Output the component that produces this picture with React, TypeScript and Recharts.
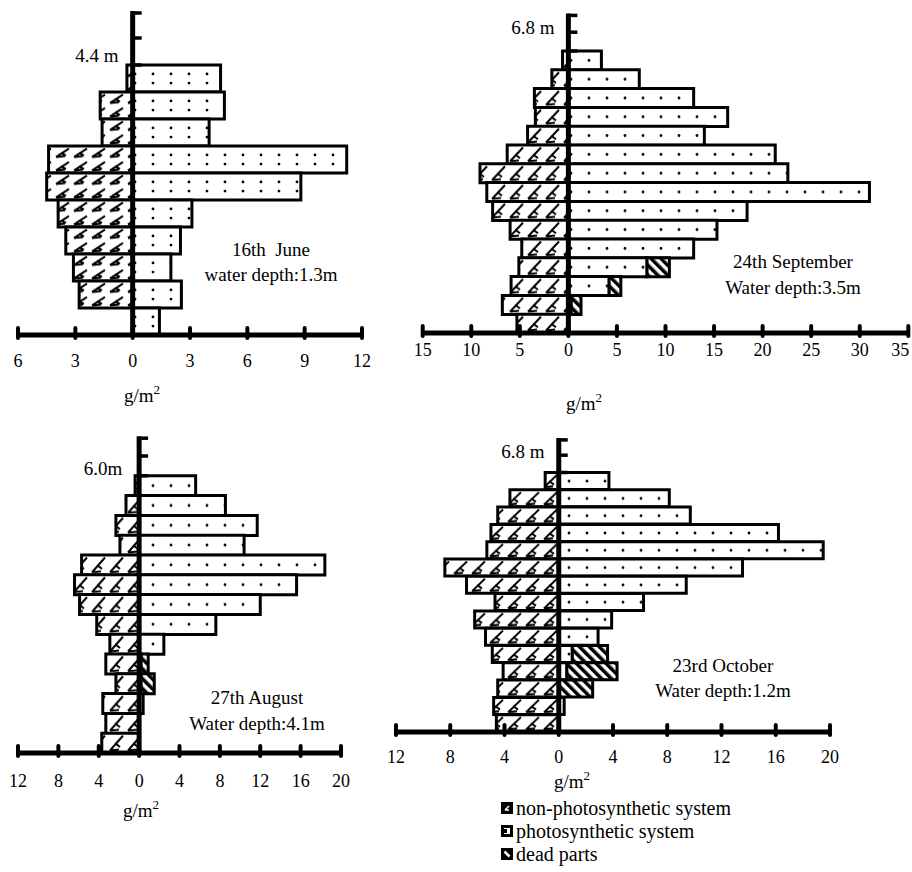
import React from 'react';
import { BarChart, Bar, XAxis, YAxis, ReferenceLine } from 'recharts';

const FONT = '"Liberation Serif", "Times New Roman", serif';

// every list runs from the top layer down to the bottom layer, g/m2
// 16th June
const juneNonPhoto = [0.3, 1.7, 1.6, 4.4, 4.5, 3.9, 3.5, 3.1, 2.8, 0];
const junePhoto = [4.6, 4.8, 4.0, 11.2, 8.8, 3.1, 2.5, 2.0, 2.55, 1.4];
const juneDead = [0, 0, 0, 0, 0, 0, 0, 0, 0, 0];
const juneTicks = [-6, -3, 0, 3, 6, 9, 12];

// 24th September
const sepNonPhoto = [0.6, 1.7, 3.5, 3.4, 4.2, 6.3, 9.1, 8.4, 7.8, 6.0, 4.8, 5.1, 5.9, 6.8, 5.3];
const sepPhoto = [3.4, 7.3, 12.9, 16.4, 14.0, 21.3, 22.6, 31.0, 18.4, 15.3, 12.9, 8.1, 4.2, 0.3, 0];
const sepDead = [0, 0, 0, 0, 0, 0, 0, 0, 0, 0, 0, 2.3, 1.2, 1.0, 0];
const sepTicks = [-15, -10, -5, 0, 5, 10, 15, 20, 25, 30, 35];

// 27th August
const augNonPhoto = [0.4, 1.3, 2.3, 1.9, 5.7, 6.4, 5.9, 4.2, 2.9, 3.3, 2.3, 3.6, 3.3, 3.7];
const augPhoto = [5.6, 8.55, 11.7, 10.4, 18.4, 15.6, 12.0, 7.6, 2.45, 0.2, 0.2, 0.4, 0, 0];
const augDead = [0, 0, 0, 0, 0, 0, 0, 0, 0, 0.7, 1.3, 0, 0, 0];
const augTicks = [-12, -8, -4, 0, 4, 8, 12, 16, 20];

// 23rd October
const octNonPhoto = [1.0, 3.6, 4.5, 5.0, 5.3, 8.4, 6.8, 4.7, 6.2, 5.4, 4.9, 4.1, 4.5, 4.8, 4.6];
const octPhoto = [3.7, 8.15, 9.7, 16.2, 19.5, 13.55, 9.4, 6.25, 3.9, 2.9, 1.0, 0.6, 0, 0.4, 0];
const octDead = [0, 0, 0, 0, 0, 0, 0, 0, 0, 0, 2.6, 3.7, 2.5, 0, 0];
const octTicks = [-12, -8, -4, 0, 4, 8, 12, 16, 20];

// two empty layers above the canopy so the depth axis reaches up to the surface mark
const buildRows = (nonPhoto: number[], photo: number[], dead: number[]) => {
  const blank = [0, 1].map((i) => ({ level: `top${i}`, nonPhoto: 0, photo: 0, dead: 0 }));
  const rows = photo.map((p, i) => ({
    level: `layer${i}`,
    nonPhoto: -nonPhoto[i],
    photo: p,
    dead: dead[i],
  }));
  return [...blank, ...rows];
};

const renderTick = (props: any, labelDy: number, lastDx: number, last: number) => {
  const { x, y, payload } = props;
  const dx = payload.value === last ? lastDx : 0;
  return (
    <g>
      <line x1={x} x2={x} y1={y - 7} y2={y + 3} stroke="#000" strokeWidth={4} strokeLinecap="round" />
      <text
        x={x + dx}
        y={y + labelDy}
        textAnchor="middle"
        dominantBaseline="central"
        fontSize={18}
        style={{ fontFamily: FONT }}
        fill="#000"
      >
        {Math.abs(payload.value)}
      </text>
    </g>
  );
};

const renderDepthAxis = (props: any, rowH: number) => {
  const top = Math.min(props.y1, props.y2);
  const bottom = Math.max(props.y1, props.y2);
  const x = props.x1;
  return (
    <g>
      <line x1={x} x2={x} y1={top} y2={bottom} stroke="#000" strokeWidth={5} />
      {[2, rowH, rowH * 2].map((dy) => (
        <line key={dy} x1={x} x2={x + 9} y1={top + dy} y2={top + dy} stroke="#000" strokeWidth={3.5} />
      ))}
    </g>
  );
};

type PanelProps = {
  id: string;
  nonPhoto: number[];
  photo: number[];
  dead: number[];
  ticks: number[];
  left: number;
  top: number;
  width: number;
  height: number;
  margin: { top: number; left: number; right: number; bottom: number };
  axisHeight: number;
  labelDy: number;
  lastDx?: number;
  dotRows: number[];
};

function Panel({ id, nonPhoto, photo, dead, ticks, left, top, width, height, margin, axisHeight, labelDy, lastDx = 0, dotRows }: PanelProps) {
  const data = buildRows(nonPhoto, photo, dead);
  const rowH = (height - margin.top - margin.bottom - axisHeight) / data.length;
  const hh = rowH / dotRows.length;
  const last = ticks[ticks.length - 1];
  return (
    <div style={{ position: 'absolute', left, top }}>
      <BarChart
        width={width}
        height={height}
        data={data}
        layout="vertical"
        stackOffset="sign"
        barCategoryGap={0}
        barGap={0}
        margin={margin}
      >
        <defs>
          <pattern id={`dots-${id}`} patternUnits="userSpaceOnUse" x={0} y={margin.top} width={18} height={rowH}>
            <rect width={18} height={rowH} fill="#fff" />
            {dotRows.map((f) => (
              <circle key={f} cx={9} cy={rowH * f} r={1.4} fill="#000" />
            ))}
          </pattern>
          <pattern id={`hatch-${id}`} patternUnits="userSpaceOnUse" x={0} y={margin.top} width={18} height={hh}>
            <rect width={18} height={hh} fill="#fff" />
            <path
              d={`M2,${hh - 2.5} L15,2.5 M2,${hh - 2.5} L11,${hh - 3.5} M7,${hh * 0.5} L12,${hh * 0.7}`}
              stroke="#000"
              strokeWidth={2}
              fill="none"
            />
          </pattern>
          <pattern id={`dead-${id}`} patternUnits="userSpaceOnUse" width={7} height={7} patternTransform="rotate(-45)">
            <rect width={7} height={7} fill="#fff" />
            <rect width={3.5} height={7} fill="#000" />
          </pattern>
        </defs>
        <XAxis
          type="number"
          domain={[ticks[0], last]}
          ticks={ticks}
          interval={0}
          height={axisHeight}
          axisLine={{ stroke: '#000', strokeWidth: 5 }}
          tickLine={false}
          tickSize={0}
          tickMargin={0}
          tick={(p: any) => renderTick(p, labelDy, lastDx, last)}
        />
        <YAxis type="category" dataKey="level" hide width={0} />
        <Bar dataKey="nonPhoto" stackId="s" fill={`url(#hatch-${id})`} stroke="#000" strokeWidth={3} isAnimationActive={false} />
        <Bar dataKey="photo" stackId="s" fill={`url(#dots-${id})`} stroke="#000" strokeWidth={3} isAnimationActive={false} />
        <Bar dataKey="dead" stackId="s" fill={`url(#dead-${id})`} stroke="#000" strokeWidth={3} isAnimationActive={false} />
        <ReferenceLine x={0} stroke="#000" shape={(p: any) => renderDepthAxis(p, rowH)} />
      </BarChart>
    </div>
  );
}

function Note({ x, y, children, size = 19 }: { x: number; y: number; children: React.ReactNode; size?: number }) {
  return (
    <div
      style={{
        position: 'absolute',
        left: x,
        top: y,
        transform: 'translate(-50%, -50%)',
        fontFamily: FONT,
        fontSize: size,
        lineHeight: 1,
        whiteSpace: 'pre',
        color: '#000',
      }}
    >
      {children}
    </div>
  );
}

const Unit = ({ x, y }: { x: number; y: number }) => (
  <Note x={x} y={y}>
    g/m<span style={{ fontSize: 13, position: 'relative', top: -8 }}>2</span>
  </Note>
);

const legendItems = ['non-photosynthetic system', 'photosynthetic system', 'dead parts'];

function LegendIcon({ kind }: { kind: number }) {
  return (
    <svg width={12} height={12} style={{ display: 'block' }}>
      {kind === 0 && (
        <g>
          <rect x={0} y={0} width={12} height={12} fill="#000" />
          <path d="M4,8 L8,4 M4,8 L8,8" stroke="#fff" strokeWidth={1.5} fill="none" />
        </g>
      )}
      {kind === 1 && (
        <g>
          <rect x={1.5} y={1.5} width={9} height={9} fill="#fff" stroke="#000" strokeWidth={3} />
          <rect x={3} y={4} width={3} height={4} fill="#000" />
        </g>
      )}
      {kind === 2 && (
        <g>
          <rect x={0} y={0} width={12} height={12} fill="#000" />
          <path d="M3.5,3.5 L8.5,8.5" stroke="#fff" strokeWidth={2.5} />
        </g>
      )}
    </svg>
  );
}

export default function App() {
  return (
    <div style={{ position: 'absolute', left: 0, top: 0, width: 912, height: 872, background: '#fff', overflow: 'hidden' }}>
      <Panel
        id="june"
        nonPhoto={juneNonPhoto}
        photo={junePhoto}
        dead={juneDead}
        ticks={juneTicks}
        left={0}
        top={0}
        width={380}
        height={420}
        margin={{ top: 11, left: 18, right: 18, bottom: 0 }}
        axisHeight={85}
        labelDy={26}
        dotRows={[0.33, 0.67]}
      />
      <Panel
        id="sep"
        nonPhoto={sepNonPhoto}
        photo={sepPhoto}
        dead={sepDead}
        ticks={sepTicks}
        left={400}
        top={0}
        width={512}
        height={420}
        margin={{ top: 13.4, left: 22.7, right: 3.7, bottom: 0 }}
        axisHeight={87}
        labelDy={17}
        lastDx={-8}
        dotRows={[0.5]}
      />
      <Panel
        id="aug"
        nonPhoto={augNonPhoto}
        photo={augPhoto}
        dead={augDead}
        ticks={augTicks}
        left={0}
        top={420}
        width={380}
        height={440}
        margin={{ top: 16.2, left: 18, right: 39, bottom: 0 }}
        axisHeight={107}
        labelDy={28}
        dotRows={[0.5]}
      />
      <Panel
        id="oct"
        nonPhoto={octNonPhoto}
        photo={octPhoto}
        dead={octDead}
        ticks={octTicks}
        left={380}
        top={420}
        width={532}
        height={440}
        margin={{ top: 17.9, left: 16, right: 82, bottom: 0 }}
        axisHeight={128}
        labelDy={25}
        dotRows={[0.5]}
      />

      <Note x={97} y={55}>4.4 m</Note>
      <Note x={271} y={249}>16th  June</Note>
      <Note x={271} y={274}>water depth:1.3m</Note>
      <Unit x={142} y={395} />

      <Note x={533} y={27}>6.8 m</Note>
      <Note x={793} y={261}>24th September</Note>
      <Note x={793} y={287}>Water depth:3.5m</Note>
      <Unit x={584} y={403} />

      <Note x={103} y={468}>6.0m</Note>
      <Note x={257} y={697}>27th August</Note>
      <Note x={257} y={723}>Water depth:4.1m</Note>
      <Unit x={141} y={810} />

      <Note x={523} y={451}>6.8 m</Note>
      <Note x={723} y={665}>23rd October</Note>
      <Note x={723} y={690}>Water depth:1.2m</Note>
      <Unit x={572} y={781} />

      {legendItems.map((label, i) => (
        <div
          key={label}
          style={{
            position: 'absolute',
            left: 501,
            top: 797 + i * 23,
            height: 22,
            display: 'flex',
            alignItems: 'center',
            fontFamily: FONT,
            fontSize: 20,
            lineHeight: 1,
            whiteSpace: 'nowrap',
          }}
        >
          <LegendIcon kind={i} />
          <span style={{ marginLeft: 3 }}>{label}</span>
        </div>
      ))}
    </div>
  );
}
